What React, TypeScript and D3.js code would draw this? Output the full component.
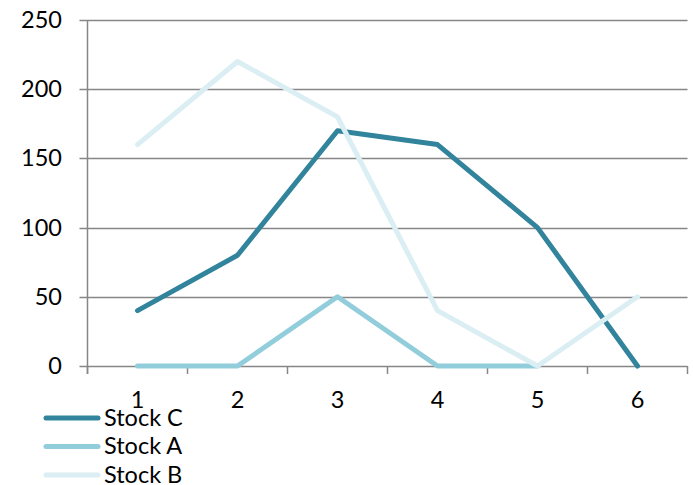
import React from "react";
import * as d3 from "d3";

const categories = [1, 2, 3, 4, 5, 6];
const stockC = [40, 80, 170, 160, 100, 0];
const stockA = [0, 0, 50, 0, 0];
const stockB = [160, 220, 180, 40, 0, 50];
const yTicks = [0, 50, 100, 150, 200, 250];

const series = [
  { name: "Stock C", values: stockC, color: "#31849B" },
  { name: "Stock A", values: stockA, color: "#92CDDC" },
  { name: "Stock B", values: stockB, color: "#DAEEF3" },
];

const W = 693;
const H = 485;
const left = 87.5;
const right = 687.5;
const top = 20;
const bottom = 366;
const font = "Lato, 'Open Sans', sans-serif";
const fontSize = 23.5;
const axisColor = "#868686";

export default function App() {
  const x = d3.scaleBand<number>().domain(categories).range([left, right]);
  const y = d3.scaleLinear().domain([0, 250]).range([bottom, top]);
  const cx = (i: number) => (x(categories[i]) as number) + x.bandwidth() / 2;
  const line = d3
    .line<number>()
    .x((_, i) => cx(i))
    .y((v) => y(v));

  const boundaries = categories.map((c) => x(c) as number).concat([right]);

  return (
    <svg width={W} height={H} style={{ position: "absolute", left: 0, top: 0 }}>
      <rect width={W} height={H} fill="#fff" />
      {yTicks.map((t) => (
        <g key={t}>
          <line x1={left - 8} x2={right} y1={Math.round(y(t)) + 0.5} y2={Math.round(y(t)) + 0.5} stroke={axisColor} strokeWidth={1.5} />
          <text x={62} y={y(t) + 8} textAnchor="end" fontFamily={font} fontSize={fontSize} fill="#000">
            {t}
          </text>
        </g>
      ))}
      <line x1={left} x2={left} y1={top} y2={bottom + 8} stroke={axisColor} strokeWidth={1.5} />
      {boundaries.map((b, i) => (
        <line key={i} x1={b} x2={b} y1={bottom} y2={bottom + 8} stroke={axisColor} strokeWidth={1.5} />
      ))}
      {categories.map((c, i) => (
        <text key={c} x={cx(i)} y={408} textAnchor="middle" fontFamily={font} fontSize={fontSize} fill="#000">
          {c}
        </text>
      ))}
      {series.map((s) => (
        <path
          key={s.name}
          d={line(s.values) as string}
          fill="none"
          stroke={s.color}
          strokeWidth={5}
          strokeLinejoin="round"
          strokeLinecap="round"
        />
      ))}
      {series.map((s, i) => {
        const ly = 418 + i * 28.5;
        return (
          <g key={s.name}>
            <line x1={46} x2={98} y1={ly} y2={ly} stroke={s.color} strokeWidth={5} strokeLinecap="round" />
            <text x={104} y={ly + 7.8} fontFamily={font} fontSize={fontSize} fill="#000">
              {s.name}
            </text>
          </g>
        );
      })}
    </svg>
  );
}
